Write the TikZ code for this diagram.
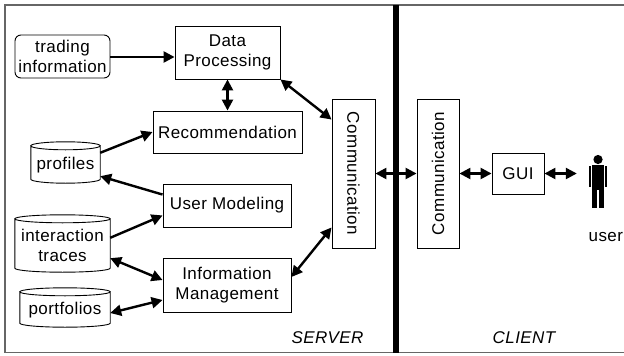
\documentclass[tikz,border=0pt]{standalone}
\usepackage{fontspec}
\setmainfont[LetterSpace=2.5]{Liberation Sans}
\usetikzlibrary{arrows.meta,calc}
\tikzset{
  box/.style={draw=black, line width=0.9pt, fill=white, align=center, inner sep=0pt, font=\fontsize{17}{20}\selectfont},
  rbox/.style={box, rounded corners=6pt},
  cylnode/.style={align=center, inner sep=0pt, font=\fontsize{17}{20}\selectfont},
  arr/.style={line width=2.4pt, -{Triangle[length=11pt,width=11pt]}},
  darr/.style={line width=2.4pt, {Triangle[length=11pt,width=11pt]}-{Triangle[length=11pt,width=11pt]}},
  lbl/.style={font=\fontsize{17}{20}\selectfont\itshape, inner sep=0pt},
}
\newcommand{\drawcyl}[1]{%
  \draw[line width=0.9pt] let \p1=(#1.north west), \p2=(#1.south east), \n1={(\x2-\x1)/2} in
    (\x1,\y1-4pt) -- (\x1,\y2+4pt) arc[start angle=180, end angle=360, x radius=\n1, y radius=4pt]
    -- (\x2,\y1-4pt)
    (\x1+\n1,\y1-4pt) ellipse[x radius=\n1, y radius=4pt];%
}
\begin{document}
\begin{tikzpicture}[x=1pt,y=1pt]
\useasboundingbox (0,0) rectangle (624,-356);
\fill[white] (0,0) rectangle (624,-356);
\clip (0,0) rectangle (624,-356);
% frame
\draw[line width=1.6pt, draw=black!60] (5,-5) rectangle (640,-352.5);
\fill[black] (393,-5) rectangle (399,-353);

% nodes
\node[rbox, minimum width=95, minimum height=43] (trade) at (62.5,-56.5) {trading\\information};
\node[box, minimum width=105, minimum height=53] (dp) at (227.5,-52.5) {Data\\Processing};
\node[box, minimum width=149, minimum height=42] (rec) at (227.5,-132) {Recommendation};
\node[box, minimum width=128, minimum height=43] (um) at (227,-205.5) {User Modeling};
\node[box, minimum width=128, minimum height=54] (im) at (227,-285) {Information\\Management};

\node[cylnode, minimum width=69, minimum height=41] (prof) at (65.5,-162.5) {};
\drawcyl{prof}
\node[cylnode] at ($(prof.center)+(0,-3)$) {profiles};
\node[cylnode, minimum width=95, minimum height=57] (trace) at (62.5,-243.5) {};
\drawcyl{trace}
\node[cylnode] at ($(trace.center)+(0,-2)$) {interaction\\traces};
\node[cylnode, minimum width=90, minimum height=39] (port) at (65,-307.5) {};
\drawcyl{port}
\node[cylnode] at ($(port.center)+(0,-3)$) {portfolios};

\node[box, minimum width=43, minimum height=149] (comms) at (353.5,-173.5) {\rotatebox{-90}{Communication}};
\node[box, minimum width=42, minimum height=149] (commc) at (438,-173.5) {\rotatebox{90}{Communication}};
\node[box, minimum width=52, minimum height=41] (gui) at (518,-173.5) {GUI};

% user icon
\node[minimum width=42, minimum height=52, inner sep=0pt] (user) at (598,-181) {};
\fill[black] (598,-159.5) circle[radius=4.6pt];
\fill[black] (592,-165) rectangle (604,-190);
\fill[black] (592,-190) rectangle (597.4,-208);
\fill[black] (598.6,-190) rectangle (604,-208);
\fill[black] (588.6,-166) rectangle (591.3,-187);
\fill[black] (604.7,-166) rectangle (607.4,-187);
\node[font=\fontsize{17}{20}\selectfont, anchor=west, inner sep=0pt] (userlbl) at (588.5,-237) {user};

\node[lbl] (server) at (327.5,-338) {SERVER};
\node[lbl] (client) at (524,-338) {CLIENT};

% connectors
\draw[arr] (trade.east |- 0,-57) -- (dp.west |- 0,-57);
\draw[darr] (dp.south) -- (rec.north);
\draw[darr] ($(comms.north west)+(0,-21)$) -- (dp.south east);
\draw[arr] ($(prof.north east)+(0,-11)$) -- (rec.west);
\draw[arr] ($(um.north west)+(0,-11)$) -- ($(prof.south east)+(0,7)$);
\draw[arr] ($(trace.north east)+(0,-23)$) -- ($(um.south west)+(0,12)$);
\draw[darr] ($(trace.south east)+(0,14)$) -- ($(im.west)+(0,5)$);
\draw[darr] ($(port.east)+(0,-5.5)$) -- ($(im.west)+(0,-15)$);
\draw[darr] ($(comms.south west)+(0,21)$) -- ($(im.east)+(0,8)$);
\draw[darr] (comms.east) -- (commc.west);
\draw[darr] (commc.east) -- (gui.west);
\draw[darr] (gui.east) -- (gui.east -| user.west);
\end{tikzpicture}
\end{document}
